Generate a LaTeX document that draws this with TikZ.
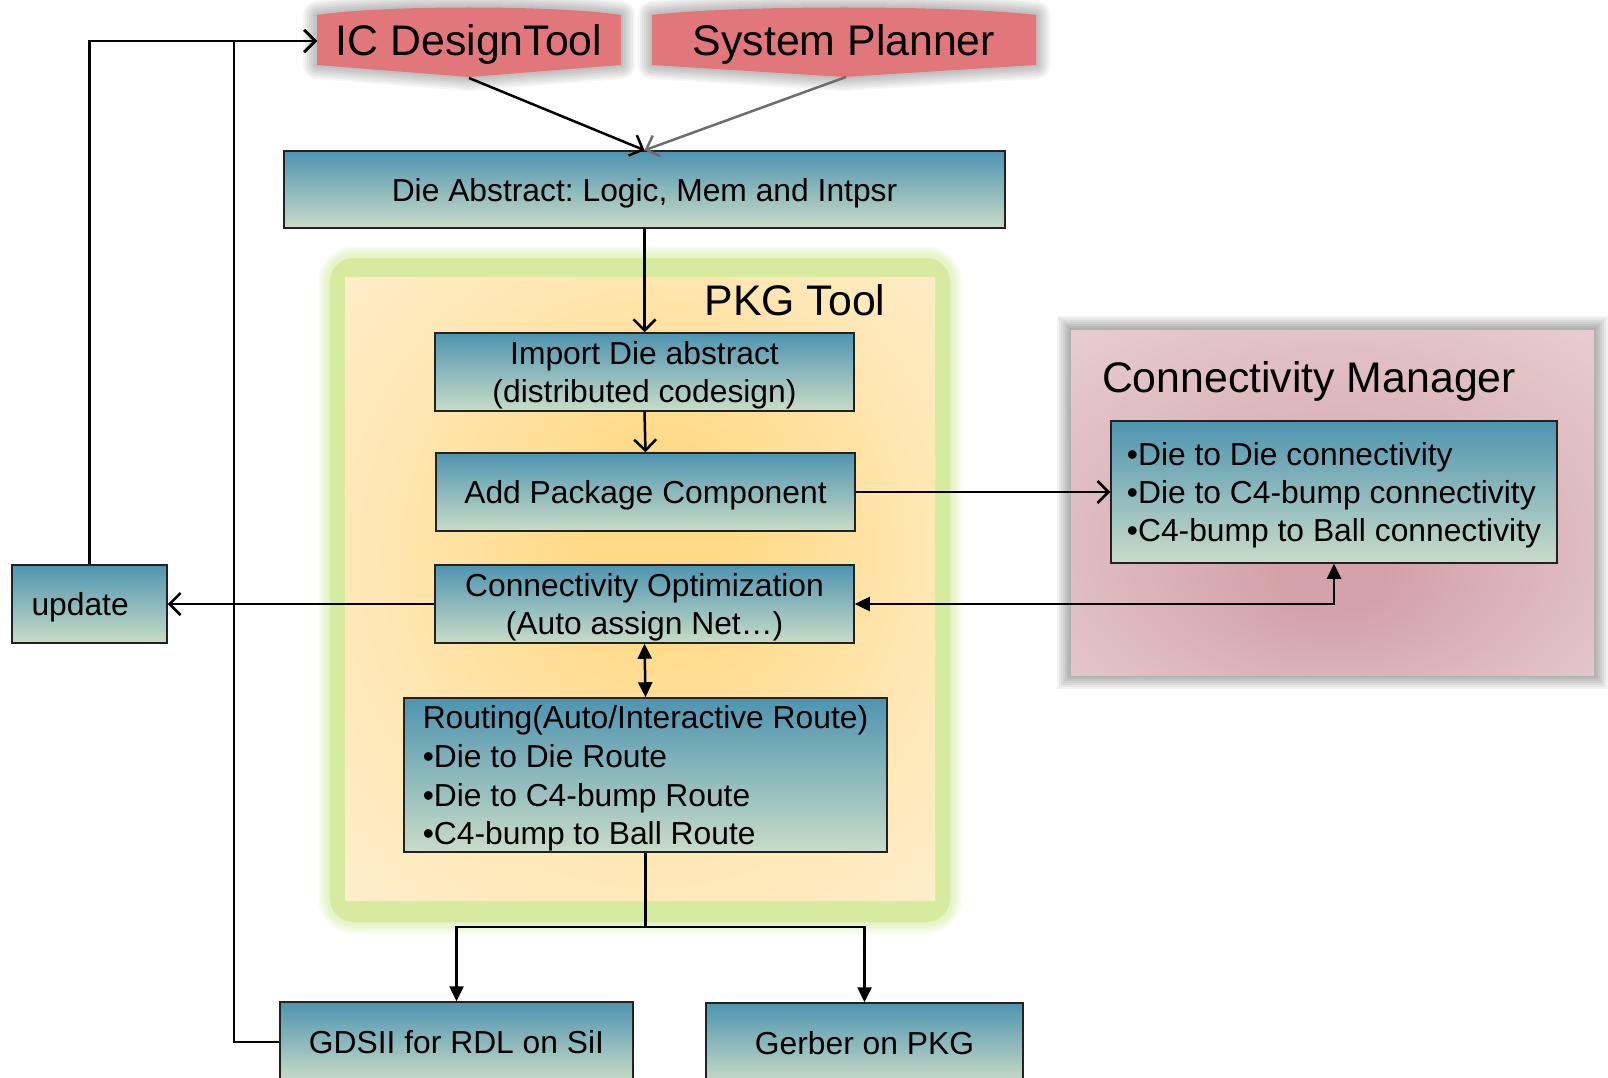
\documentclass[tikz,border=0pt]{standalone}
\usepackage{fontspec}
\setmainfont{Liberation Sans}
\frenchspacing
\usetikzlibrary{arrows.meta,calc}
\definecolor{boxtop}{HTML}{4E94B0}
\definecolor{boxbot}{HTML}{C9DCC8}
\definecolor{bannerfill}{HTML}{E1767B}
\definecolor{glowgreen}{HTML}{D6EB9F}
\definecolor{pkgin}{HTML}{FFD985}
\definecolor{pkgmid}{HTML}{FFE7B4}
\definecolor{pkgout}{HTML}{FFF2DA}
\definecolor{cmin}{HTML}{D3A2A8}
\definecolor{cmout}{HTML}{EBD7DA}
\definecolor{edgecol}{HTML}{222222}
\definecolor{graylink}{HTML}{6E6E6E}
\newcommand\tallstrut{\rule{0pt}{30pt}}
\pgfdeclareradialshading{pkgshade}{\pgfpoint{2bp}{5bp}}{color(0bp)=(pkgin); color(6bp)=(pkgin); color(24bp)=(pkgmid); color(44bp)=(pkgout); color(50bp)=(pkgout)}
\pgfdeclareradialshading{cmshade}{\pgfpoint{0bp}{-12bp}}{color(0bp)=(cmin); color(5bp)=(cmin); color(45bp)=(cmout); color(50bp)=(cmout)}
\tikzset{
  bodyfont/.style={font=\fontsize{31.8}{38}\selectfont},
  gbox/.style={draw=edgecol, line width=1.5pt, top color=boxtop, bottom color=boxbot,
    inner sep=0pt, align=center, bodyfont},
  listbox/.style={gbox, align=left, inner xsep=18pt},
  bigtext/.style={inner sep=0pt, font=\fontsize{42.8}{50}\selectfont},
  conn/.style={line width=2.5pt, draw=black},
  openhead/.style={-{Straight Barb[length=11pt,width=22pt]}},
  fullhead/.style={-{Triangle[length=15pt,width=14pt]}},
  bothfull/.style={{Triangle[length=15pt,width=14pt]}-{Triangle[length=15pt,width=14pt]}},
}
\begin{document}
\begin{tikzpicture}[x=1pt,y=-1pt]
\useasboundingbox (0,0) rectangle (1608,1078);

% ---------- PKG Tool region ----------
\foreach \w in {3,6,...,24}
  \draw[glowgreen, opacity=0.11, line width=\w pt, rounded corners=24pt] (330,258) rectangle (950,922);
\fill[glowgreen, rounded corners=24pt] (330,258) rectangle (950,922);
\shade[shading=pkgshade] (345,277) rectangle (935,900);
\node[bigtext] (pkgtitle) at (795,300) {PKG Tool};

% ---------- Connectivity Manager region ----------
\foreach \w in {4,8,...,28}
  \draw[black, opacity=0.05, line width=\w pt] (1071,330) rectangle (1594,675);
\shade[shading=cmshade] (1071,330) rectangle (1594,675);
\node[bigtext, anchor=base] (cmtitle) at (1309,392) {Connectivity Manager};

% ---------- banners ----------
\foreach \w in {4,8,...,28} {
  \draw[black, opacity=0.04, line width=\w pt, line join=round]
    (317,15) .. controls (380,5) and (558,5) .. (621,15) -- (621,65) -- (469,77) -- (317,65) -- cycle;
  \draw[black, opacity=0.04, line width=\w pt, line join=round]
    (652,15) .. controls (732,5) and (956,5) .. (1036,15) -- (1036,65) -- (844,77) -- (652,65) -- cycle;
}
\fill[bannerfill] (317,15) .. controls (380,5) and (558,5) .. (621,15) -- (621,65) -- (469,77) -- (317,65) -- cycle;
\fill[bannerfill] (652,15) .. controls (732,5) and (956,5) .. (1036,15) -- (1036,65) -- (844,77) -- (652,65) -- cycle;
\node[bigtext, minimum width=304pt, minimum height=50pt] (ic) at (469,44) {IC DesignTool};
\node[bigtext, minimum width=384pt, minimum height=50pt] (sp) at (844,44) {System Planner};
\coordinate (icapex) at (469,78);
\coordinate (spapex) at (846,77);
\coordinate (icin) at (317,41);

% ---------- boxes ----------
\node[gbox, minimum width=721pt, minimum height=77pt] (die) at (644.5,189.5) {\tallstrut Die Abstract: Logic, Mem and Intpsr};
\node[gbox, minimum width=419pt, minimum height=78pt] (import) at (644.5,372) {\tallstrut Import Die abstract\\(distributed codesign)};
\node[gbox, minimum width=419pt, minimum height=78pt] (add) at (645.5,492) {\tallstrut Add Package Component};
\node[gbox, minimum width=419pt, minimum height=78pt] (copt) at (644.5,604) {\tallstrut Connectivity Optimization\\(Auto assign Net\ldots)};
\node[listbox, minimum width=483pt, minimum height=154pt, font=\fontsize{31.8}{38.7}\selectfont] (rout) at (645.5,775)
  {\tallstrut Routing(Auto/Interactive Route)\\•Die to Die Route\\•Die to C4-bump Route\\•C4-bump to Ball Route};
\node[gbox, align=left, text width=116pt, inner xsep=19.5pt, minimum height=78pt] (update) at (89.5,604) {\tallstrut update};
\node[gbox, minimum width=353pt, minimum height=80pt] (gds) at (456.5,1042) {GDSII for RDL on SiI};
\node[gbox, minimum width=317pt, minimum height=80pt] (gerber) at (864.5,1043) {Gerber on PKG};
\node[listbox, inner xsep=14pt, minimum width=446pt, minimum height=142pt] (cmbox) at (1334,492)
  {\tallstrut •Die to Die connectivity\\•Die to C4-bump connectivity\\•C4-bump to Ball connectivity};

% ---------- connectors ----------
\draw[conn, openhead] (icapex) -- (die.north);
\draw[conn, draw=graylink, openhead] (spapex) -- (die.north);
\draw[conn, openhead] (die.south) -- (import.north);
\draw[conn, openhead] (import.south) -- (add.north);
\draw[conn, openhead] (add.east) -- (cmbox.west);
\draw[conn, openhead] (copt.west) -- (update.east);
\draw[conn, bothfull] (copt.east) -| (cmbox.south);
\draw[conn, bothfull] (copt.south) -- (rout.north);
\coordinate (split) at (645.5,927);
\draw[conn] (rout.south) -- (split);
\draw[conn, fullhead] (split) -| (gds.north);
\draw[conn, fullhead] (split) -| (gerber.north);
\coordinate (loopx) at (234,41);
\draw[conn, openhead] (update.north) |- (icin);
\draw[conn, openhead] (gds.west) -| (loopx) -- (icin);
\end{tikzpicture}
\end{document}
